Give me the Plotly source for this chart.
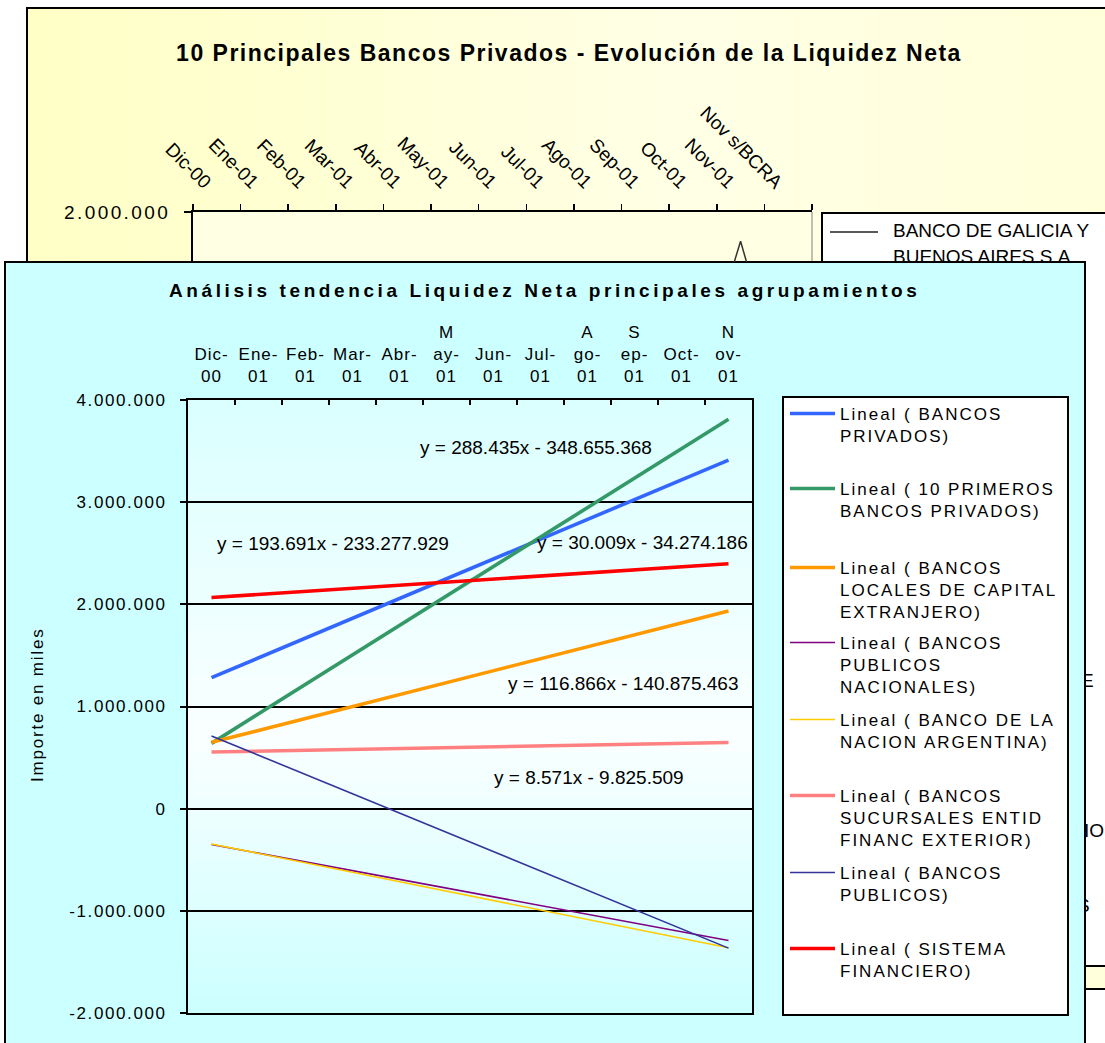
import plotly.graph_objects as go

W, H = 1105, 1043
FONT = "Liberation Sans, Arial, Helvetica, sans-serif"

# ------------------------------------------------------------------ data
# Chart behind (mostly hidden): 10 Principales Bancos Privados
meses_sup = ["Dic-00", "Ene-01", "Feb-01", "Mar-01", "Abr-01", "May-01", "Jun-01",
             "Jul-01", "Ago-01", "Sep-01", "Oct-01", "Nov-01", "Nov s/BCRA"]
# only the Nov-01 peak is visible above the front chart; earlier months hidden
galicia = [None, None, None, None, None, None, None, None, None, None,
           1050000, 1850000, 1000000]
galicia_nombre = "BANCO DE GALICIA Y BUENOS AIRES S.A."
sup_ytick = [2000000]
sup_ytick_txt = ["2.000.000"]
sup_leyenda = ["BANCO DE GALICIA Y", "BUENOS AIRES S.A."]
sup_fragmentos = ["E", "IO", "S"]

# Front chart: Análisis tendencia Liquidez Neta principales agrupamientos
meses = ["Dic-00", "Ene-01", "Feb-01", "Mar-01", "Abr-01", "May-01",
         "Jun-01", "Jul-01", "Ago-01", "Sep-01", "Oct-01", "Nov-01"]
meses_txt = ["Dic-<br>00", "Ene-<br>01", "Feb-<br>01", "Mar-<br>01", "Abr-<br>01",
             "M<br>ay-<br>01", "Jun-<br>01", "Jul-<br>01", "A<br>go-<br>01",
             "S<br>ep-<br>01", "Oct-<br>01", "N<br>ov-<br>01"]
extremos = ["Dic-00", "Nov-01"]
bancos_privados = [1282000, 3412000]
diez_primeros = [639000, 3812000]
locales_ext = [649000, 1935000]
publicos_nac = [-350000, -1290000]
nacion = [-345000, -1362000]
sucursales = [554000, 648000]
publicos = [712000, -1365000]
sistema = [2067000, 2397000]

y_ticks = [-2000000, -1000000, 0, 1000000, 2000000, 3000000, 4000000]
y_ticks_txt = ["-2.000.000", "-1.000.000", "0", "1.000.000", "2.000.000",
               "3.000.000", "4.000.000"]
ecuaciones = ["y = 288.435x - 348.655.368", "y = 193.691x - 233.277.929",
              "y = 30.009x - 34.274.186", "y = 116.866x - 140.875.463",
              "y = 8.571x - 9.825.509"]

series = [
    ("Lineal ( BANCOS<br>PRIVADOS)", bancos_privados, "#3366FF", 3.6),
    ("Lineal ( 10 PRIMEROS<br>BANCOS PRIVADOS)", diez_primeros, "#339966", 3.6),
    ("Lineal ( BANCOS<br>LOCALES DE CAPITAL<br>EXTRANJERO)", locales_ext, "#FF9900", 3.6),
    ("Lineal ( BANCOS<br>PUBLICOS<br>NACIONALES)", publicos_nac, "#800080", 1.6),
    ("Lineal ( BANCO DE LA<br>NACION ARGENTINA)", nacion, "#FFCC00", 1.6),
    ("Lineal ( BANCOS<br>SUCURSALES ENTID<br>FINANC EXTERIOR)", sucursales, "#FF8080", 3.6),
    ("Lineal ( BANCOS<br>PUBLICOS)", publicos, "#333399", 1.6),
    ("Lineal ( SISTEMA<br>FINANCIERO)", sistema, "#FF0000", 3.6),
]

# ------------------------------------------------------------------ helpers
def fx(px):
    return px / W


def fy(py):
    return 1 - py / H


def sp(text, px):
    return "<br>".join(
        f"<span style='letter-spacing:{px}px'>{ln}</span>" for ln in text.split("<br>"))


def mix(c1, c2, t):
    t = max(0.0, min(1.0, t))
    return "rgb(%d,%d,%d)" % tuple(round(a + (b - a) * t) for a, b in zip(c1, c2))


shapes = []


def rect(x0, y0, x1, y1, fill=None, line=None, lw=0):
    shapes.append(dict(type="rect", xref="paper", yref="paper", layer="below",
                       x0=fx(x0), x1=fx(x1), y0=fy(y1), y1=fy(y0),
                       fillcolor=fill if fill else "rgba(0,0,0,0)",
                       line=dict(color=line if line else "rgba(0,0,0,0)", width=lw)))


# ---- back chart background (yellow, gradient left->right)
n = 40
x_a, x_b = 27, 1120
for i in range(n):
    t = i / (n - 1)
    c = mix((255, 255, 198), (255, 255, 230), t / 0.6) if t < 0.6 else \
        mix((255, 255, 230), (255, 255, 218), (t - 0.6) / 0.4)
    rect(x_a + (x_b - x_a) * i / n, 8, x_a + (x_b - x_a) * (i + 1) / n + 1, 989, fill=c)
rect(27, 8, 1120, 989, line="black", lw=2)
# back plot area
rect(193, 212, 812, 300, fill="#FFFFE4")
shapes.append(dict(type="line", xref="paper", yref="paper", layer="below",
                   x0=fx(812), x1=fx(812), y0=fy(212), y1=fy(300),
                   line=dict(color="#808080", width=1)))
# back legend box
rect(822, 213, 1125, 966, fill="white", line="black", lw=2)

# ---- front chart
rect(5, 262, 1085, 1070, fill="#CCFFFF", line="black", lw=2)
# plot area gradient (vertical)
top_c, mid_c, bot_c = (218, 255, 255), (250, 255, 255), (204, 255, 255)
py0, py1 = 400, 1013
n = 40
for i in range(n):
    t = (i + 0.5) / n
    c = mix(top_c, mid_c, t / 0.55) if t < 0.55 else mix(mid_c, bot_c, (t - 0.55) / 0.45)
    rect(188, py0 + (py1 - py0) * i / n, 752, py0 + (py1 - py0) * (i + 1) / n + 0.6, fill=c)
# front legend box
rect(783, 397, 1068, 1015, fill="white", line="black", lw=2)

# ------------------------------------------------------------------ figure
fig = go.Figure()

legend_lines = [413, 488, 567, 642, 719, 795, 872, 948]
for i, (name, vals, col, lw) in enumerate(series):
    lg = "legend" if i == 0 else f"legend{i + 1}"
    fig.add_trace(go.Scatter(x=extremos, y=vals, mode="lines", name=sp(name, 2),
                             line=dict(color=col, width=lw), legend=lg,
                             xaxis="x", yaxis="y", hoverinfo="skip"))

# back chart data line (clipped by its visible plot area)
fig.add_trace(go.Scatter(x=meses_sup, y=galicia, mode="lines", name=galicia_nombre,
                         line=dict(color="#333333", width=1.5),
                         showlegend=False, xaxis="x2", yaxis="y2", hoverinfo="skip",
                         connectgaps=False))

# back chart legend (clipped by the front chart)
fig.add_trace(go.Scatter(x=[830, 878], y=[232, 232], mode="lines",
                         line=dict(color="#222222", width=1.5), showlegend=False,
                         xaxis="x3", yaxis="y3", hoverinfo="skip"))
fig.add_trace(go.Scatter(x=[893, 893], y=[232, 258], mode="text", text=sup_leyenda,
                         textposition="middle right", cliponaxis=True,
                         textfont=dict(family=FONT, size=19, color="black"),
                         showlegend=False, xaxis="x3", yaxis="y3", hoverinfo="skip"))
fig.add_trace(go.Scatter(x=[1081, 1084, 1077], y=[682, 832, 907], mode="text",
                         text=sup_fragmentos, textposition="middle right", cliponaxis=True,
                         textfont=dict(family=FONT, size=19, color="black"),
                         showlegend=False, xaxis="x4", yaxis="y4", hoverinfo="skip"))

# back chart y scale: 2.000.000 at the top edge, 4.000.000 span over ~780 px
per_px = 4000000 / 780
y2_lo = 2000000 - (262 - 212) * per_px

axis_font = dict(family=FONT, size=17, color="black")

fig.update_layout(
    width=W, height=H, autosize=False,
    margin=dict(l=0, r=0, t=0, b=0, pad=0, autoexpand=False),
    paper_bgcolor="white", plot_bgcolor="rgba(0,0,0,0)",
    shapes=shapes,
    title=dict(text=sp("10 Principales Bancos Privados - Evolución de la Liquidez Neta", 1.5),
               x=fx(569), y=fy(53), xref="paper", yref="paper",
               xanchor="center", yanchor="middle", automargin=False,
               font=dict(family=FONT, size=23, color="black", weight="bold")),
    xaxis=dict(domain=[fx(188), fx(752)], type="category", categoryorder="array",
               categoryarray=meses, range=[-0.5, 11.5], side="top", anchor="y",
               tickmode="array", tickvals=meses, ticktext=[sp(t, 1) for t in meses_txt],
               tickangle=0, automargin=False,
               tickson="boundaries", ticks="inside", ticklen=5, tickwidth=2,
               tickcolor="black", showline=True, linecolor="black", linewidth=2,
               mirror=True, showgrid=False, zeroline=False, tickfont=axis_font,
               ticklabelstandoff=9, fixedrange=True),
    yaxis=dict(domain=[fy(1013), fy(400)], range=[-2000000, 4000000], anchor="x",
               tickmode="array", tickvals=y_ticks, ticktext=[sp(t, 1.6) for t in y_ticks_txt],
               automargin=False,
               ticks="outside", ticklen=6, tickwidth=2, tickcolor="black",
               showline=True, linecolor="black", linewidth=2, mirror=True,
               showgrid=True, gridcolor="black", gridwidth=2, zeroline=False,
               tickfont=axis_font, ticklabelstandoff=10, fixedrange=True),
    xaxis2=dict(domain=[fx(193), fx(812)], type="category", categoryorder="array",
                categoryarray=meses_sup, range=[-0.5, 12.5], side="top", anchor="y2",
                tickson="boundaries", ticks="outside", ticklen=6, tickwidth=1.5,
                tickcolor="black", tickangle=45, showline=True, linecolor="black",
                linewidth=2, showgrid=False, zeroline=False, automargin=False,
                tickfont=dict(family=FONT, size=19, color="black"),
                ticklabelstandoff=10, ticklabelshift=-7, fixedrange=True),
    yaxis2=dict(domain=[fy(262), fy(212)], range=[y2_lo, 2000000], anchor="x2",
                tickmode="array", tickvals=sup_ytick,
                ticktext=[sp(t, 2.4) for t in sup_ytick_txt], automargin=False,
                ticks="outside", ticklen=7, tickwidth=1.5, tickcolor="black",
                showline=True, linecolor="black", linewidth=2, showgrid=False,
                zeroline=False, tickfont=dict(family=FONT, size=19, color="black"),
                ticklabelstandoff=10, fixedrange=True),
    xaxis3=dict(domain=[fx(822), 1], range=[822, 1105], visible=False, anchor="y3",
                fixedrange=True, automargin=False),
    yaxis3=dict(domain=[fy(262), fy(213)], range=[262, 213], visible=False, anchor="x3",
                fixedrange=True, automargin=False),
    xaxis4=dict(domain=[fx(1085.5), 1], range=[1085.5, 1105], visible=False, anchor="y4",
                fixedrange=True, automargin=False),
    yaxis4=dict(domain=[fy(966), fy(262)], range=[966, 262], visible=False, anchor="x4",
                fixedrange=True, automargin=False),
    hovermode=False,
)

# legends of the front chart: one per trend line
for i, ly in enumerate(legend_lines):
    key = "legend" if i == 0 else f"legend{i + 1}"
    fig.update_layout({key: dict(x=fx(785), y=fy(ly - 17), xanchor="left", yanchor="top",
                                 bgcolor="rgba(0,0,0,0)", borderwidth=0,
                                 font=dict(family=FONT, size=17, color="black"),
                                 itemwidth=45, valign="top", tracegroupgap=0)})

annotations = [
    dict(text=sp("Análisis tendencia Liquidez Neta principales agrupamientos", 3.6),
         x=fx(545), y=fy(290), font=dict(family=FONT, size=19, color="black", weight="bold")),
    dict(text=sp("Importe en miles", 1.8), x=fx(37), y=fy(705), textangle=-90,
         font=dict(family=FONT, size=17, color="black")),
]
eq_pos = [(536, 447), (333, 543), (642, 542), (623, 683), (589, 777)]
for txt, (ex, ey) in zip(ecuaciones, eq_pos):
    annotations.append(dict(text=txt, x=fx(ex), y=fy(ey),
                            font=dict(family=FONT, size=19, color="black")))
for a in annotations:
    a.update(xref="paper", yref="paper", showarrow=False, xanchor="center", yanchor="middle")
fig.update_layout(annotations=annotations)

fig.write_html("out.html", config={"displayModeBar": False, "staticPlot": True},
               post_script="document.body.style.margin='0px';"
                           "document.body.style.overflow='hidden';")
